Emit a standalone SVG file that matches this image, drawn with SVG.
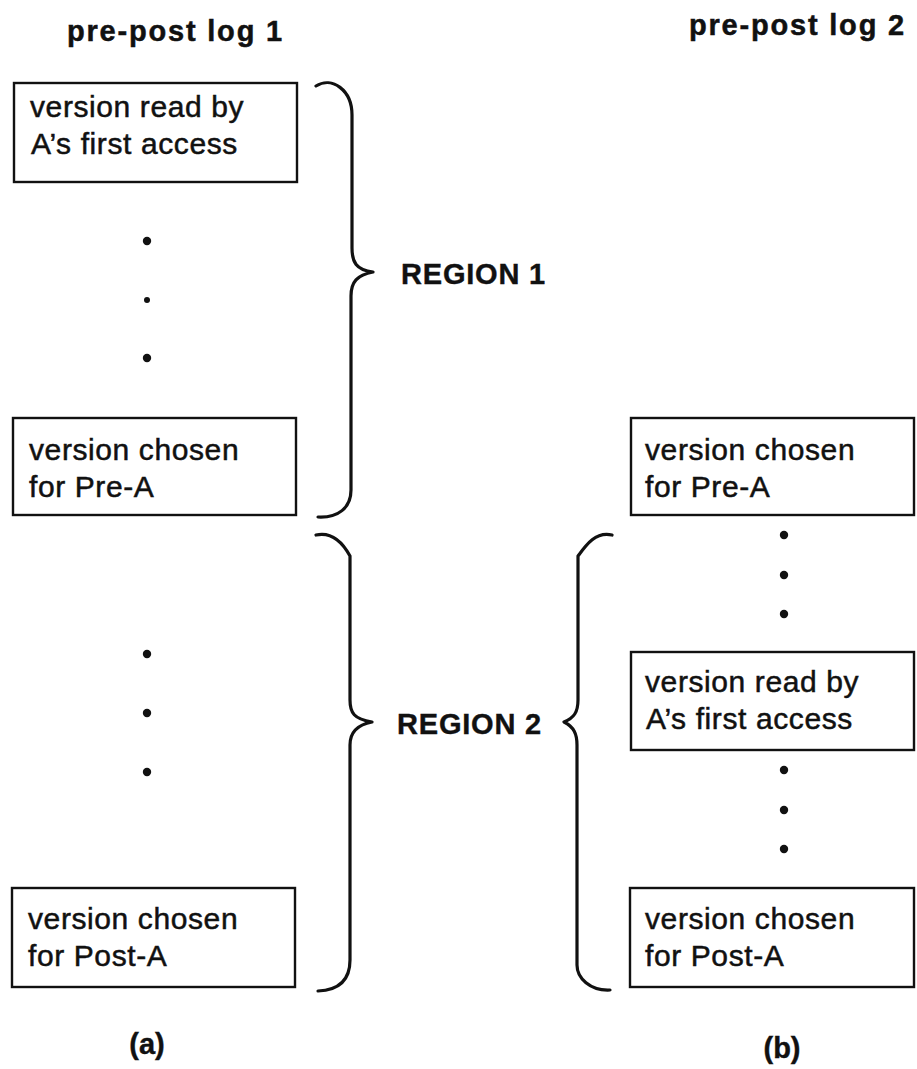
<svg xmlns="http://www.w3.org/2000/svg" width="917" height="1069" viewBox="0 0 917 1069">
<style>
.box{fill:#fff;stroke:#111;stroke-width:2.4}
.t{font-family:"Liberation Sans",Arial,sans-serif;font-size:30px;fill:#111;stroke:#111;stroke-width:0.5;letter-spacing:0.6px}
.h{font-family:"Liberation Sans",Arial,sans-serif;font-size:29px;font-weight:bold;fill:#111;stroke:#111;stroke-width:0.5;letter-spacing:1.8px}
.r{font-family:"Liberation Sans",Arial,sans-serif;font-size:29px;font-weight:bold;fill:#111;stroke:#111;stroke-width:0.4;letter-spacing:0.8px}
.lab{font-family:"Liberation Sans",Arial,sans-serif;font-size:29px;font-weight:bold;fill:#111;stroke:#111;stroke-width:0.4;text-anchor:middle}
.br{fill:none;stroke:#111;stroke-width:3.2;stroke-linecap:round;stroke-linejoin:round}
.dot{fill:#111}
</style>
<rect width="917" height="1069" fill="#fff"/>
<g id="titles">
<text class="h" x="67" y="41">pre-post log 1</text>
<text class="h" x="689" y="35">pre-post log 2</text>
</g>
<g id="a1"><rect class="box" x="14" y="83" width="283" height="99"/>
<text class="t" x="30" y="117">version read by</text>
<text class="t" x="31" y="154">A’s first access</text></g>
<g id="a2"><rect class="box" x="13" y="418" width="283" height="97"/>
<text class="t" x="29" y="460">version chosen</text>
<text class="t" x="29" y="497">for Pre-A</text></g>
<g id="a3"><rect class="box" x="12" y="888" width="283" height="99"/>
<text class="t" x="28" y="929">version chosen</text>
<text class="t" x="28" y="966">for Post-A</text></g>
<g id="b1"><rect class="box" x="631" y="418" width="283" height="97"/>
<text class="t" x="645" y="460">version chosen</text>
<text class="t" x="645" y="497">for Pre-A</text></g>
<g id="b2"><rect class="box" x="631" y="652" width="283" height="98"/>
<text class="t" x="645" y="692">version read by</text>
<text class="t" x="646" y="729">A’s first access</text></g>
<g id="b3"><rect class="box" x="630" y="888" width="284" height="99"/>
<text class="t" x="645" y="929">version chosen</text>
<text class="t" x="645" y="966">for Post-A</text></g>
<g id="dots">
<circle class="dot" cx="147" cy="241" r="4.2"/>
<circle class="dot" cx="147" cy="300" r="3"/>
<circle class="dot" cx="147" cy="358" r="4.2"/>
<circle class="dot" cx="147" cy="654" r="4.2"/>
<circle class="dot" cx="147" cy="713" r="4.2"/>
<circle class="dot" cx="147" cy="772" r="4.2"/>
<circle class="dot" cx="784" cy="535" r="4.2"/>
<circle class="dot" cx="784" cy="575" r="4.2"/>
<circle class="dot" cx="784" cy="614" r="4.2"/>
<circle class="dot" cx="784" cy="770" r="4.2"/>
<circle class="dot" cx="784" cy="810" r="4.2"/>
<circle class="dot" cx="784" cy="849" r="4.2"/>
</g>
<g id="connectors">
<path class="br" d="M316 86 C332 76 352 90 352 115 V248 C352 262 356 270 373 272 C357 275 351 282 351 296 V490 C351 508 338 518 318 517"/>
<path class="br" d="M316 535 C334 531 344 545 350 556 V700 C350 713 354 719 372 722 C356 725 350 733 350 745 V960 C350 977 342 990 318 991"/>
<path class="br" d="M612 535 C596 531 586 545 578 556 V700 C578 712 574 718 564 722 C574 727 577 734 577 745 V965 C577 978 590 991 610 990"/>
</g>
<g id="labels">
<text class="r" x="401" y="284">REGION 1</text>
<text class="r" x="397" y="734">REGION 2</text>
<text class="lab" x="147" y="1054">(a)</text>
<text class="lab" x="782" y="1058">(b)</text>
</g>
</svg>
